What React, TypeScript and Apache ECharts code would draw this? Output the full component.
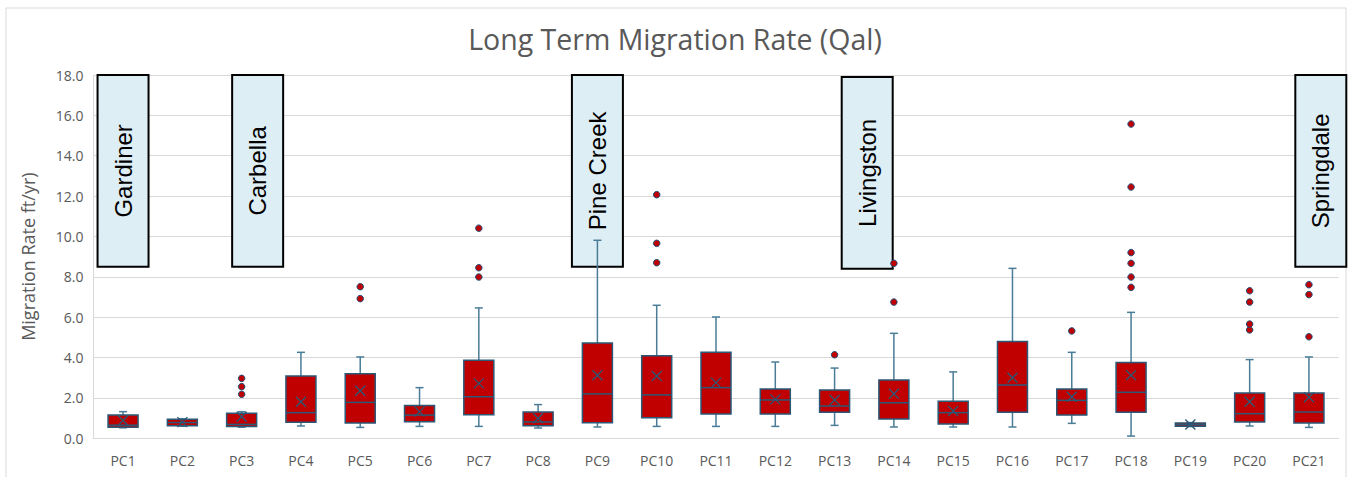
import React, { useEffect, useRef } from "react";
import * as echarts from "echarts";

const categories = ["PC1","PC2","PC3","PC4","PC5","PC6","PC7","PC8","PC9","PC10","PC11","PC12","PC13","PC14","PC15","PC16","PC17","PC18","PC19","PC20","PC21"];
const mins    = [0.52,0.60,0.55,0.61,0.54,0.59,0.59,0.51,0.56,0.59,0.59,0.59,0.64,0.56,0.56,0.56,0.74,0.11,0.58,0.61,0.54];
const q1s     = [0.55,0.62,0.58,0.79,0.76,0.82,1.17,0.62,0.77,1.02,1.20,1.20,1.29,0.96,0.71,1.29,1.15,1.29,0.60,0.81,0.76];
const medians = [0.65,0.78,0.69,1.27,1.78,1.15,2.06,0.81,2.20,2.15,2.51,1.90,1.60,1.76,1.27,2.64,1.88,2.28,0.68,1.22,1.30];
const q3s     = [1.15,0.94,1.24,3.09,3.20,1.62,3.87,1.30,4.72,4.09,4.26,2.44,2.39,2.89,1.83,4.79,2.44,3.75,0.76,2.24,2.24];
const maxs    = [1.32,0.96,1.32,4.26,4.03,2.51,6.46,1.67,9.81,6.59,6.01,3.78,3.48,5.20,3.29,8.42,4.26,6.24,0.78,3.90,4.03];
const means   = [0.88,0.80,1.07,1.81,2.36,1.32,2.72,0.99,3.12,3.09,2.76,1.93,1.90,2.21,1.35,3.00,2.06,3.12,0.68,1.81,2.03];
const outliers: number[][] = [
  [], [], [2.18,2.56,2.97], [], [6.92,7.51], [], [7.99,8.45,10.41], [], [],
  [8.70,9.66,12.07], [], [], [4.14], [6.75,8.67], [], [], [5.32],
  [7.48,7.99,8.67,9.20,12.45,15.57], [], [5.37,5.66,6.75,7.31], [5.03,7.12,7.61],
];
const yTicks = { min: 0, max: 18, interval: 2 };
const title = "Long Term Migration Rate (Qal)";
const yName = "Migration Rate ft/yr)";
// location label boxes: name, center (category position), bottom, top
const locNames   = ["Gardiner","Carbella","Pine Creek","Livingston","Springdale"];
const locCenters = [0, 2.27, 8.0, 12.55, 20.2];
const locBottoms = [8.5, 8.5, 8.5, 8.4, 8.5];
const locTops    = [18, 18, 18, 17.9, 18];

export default function App() {
  const ref = useRef<HTMLDivElement>(null);
  useEffect(() => {
    if (!ref.current) return;
    const chart = echarts.init(ref.current, null, { renderer: "svg" });
    const font = "'Open Sans', sans-serif";
    const gray = "#595959";
    const boxData = categories.map((_, i) => [i, mins[i], q1s[i], medians[i], q3s[i], maxs[i], means[i]]);
    const outData: number[][] = [];
    outliers.forEach((arr, i) => arr.forEach((v) => outData.push([i, v])));
    const locData = locNames.map((_, i) => [locCenters[i], locBottoms[i], locTops[i]]);

    chart.setOption({
      animation: false,
      backgroundColor: "#ffffff",
      title: {
        text: title,
        left: "center",
        top: 19,
        textStyle: { fontFamily: font, fontSize: 28.5, fontWeight: "normal", color: gray },
      },
      grid: { left: 93.4, right: 11.4, top: 75, bottom: 38.7 },
      xAxis: [
        {
          type: "category",
          data: categories,
          axisTick: { show: false },
          axisLine: { lineStyle: { color: "#D9D9D9" } },
          axisLabel: { color: gray, fontFamily: font, fontSize: 14, margin: 15 },
        },
        { type: "value", min: -0.5, max: 20.5, show: false },
      ],
      yAxis: {
        type: "value",
        min: yTicks.min,
        max: yTicks.max,
        interval: yTicks.interval,
        name: yName,
        nameLocation: "middle",
        nameGap: 56,
        nameTextStyle: { color: gray, fontFamily: font, fontSize: 18 },
        axisLine: { show: true, onZero: false, lineStyle: { color: "#D9D9D9" } },
        axisTick: { show: false },
        axisLabel: { color: gray, fontFamily: font, fontSize: 14, margin: 10, formatter: (v: number) => v.toFixed(1) },
        splitLine: { lineStyle: { color: "#D9D9D9", width: 1 } },
      },
      graphic: [
        {
          type: "rect",
          silent: true,
          z: -10,
          shape: { x: 6, y: 8, width: 1340, height: 500 },
          style: { fill: "none", stroke: "#D9D9D9", lineWidth: 1 },
        },
      ],
      series: [
        {
          type: "custom",
          name: "locations",
          xAxisIndex: 1,
          z: 1,
          clip: false,
          silent: true,
          data: locData,
          encode: { x: 0, y: [1, 2] },
          renderItem: (params: any, api: any) => {
            const c = api.value(0);
            const b = api.coord([c, api.value(1)]);
            const t = api.coord([c, api.value(2)]);
            const w = api.size([0.86, 0])[0];
            return {
              type: "group",
              children: [
                {
                  type: "rect",
                  shape: { x: b[0] - w / 2, y: t[1], width: w, height: b[1] - t[1] },
                  style: { fill: "#DEEEF5", stroke: "#000000", lineWidth: 2 },
                },
                {
                  type: "text",
                  x: b[0],
                  y: (b[1] + t[1]) / 2,
                  rotation: Math.PI / 2,
                  style: {
                    text: locNames[params.dataIndex],
                    fill: "#000000",
                    fontFamily: "'Liberation Sans', Arial, sans-serif",
                    fontSize: 24,
                    align: "center",
                    verticalAlign: "middle",
                  },
                },
              ],
            };
          },
        },
        {
          type: "custom",
          name: "boxes",
          z: 3,
          data: boxData,
          encode: { x: 0, y: [1, 2, 3, 4, 5, 6] },
          renderItem: (params: any, api: any) => {
            const i = api.value(0);
            const pMin = api.coord([i, api.value(1)]);
            const pQ1 = api.coord([i, api.value(2)]);
            const pMed = api.coord([i, api.value(3)]);
            const pQ3 = api.coord([i, api.value(4)]);
            const pMax = api.coord([i, api.value(5)]);
            const pMean = api.coord([i, api.value(6)]);
            const x = pQ1[0];
            const bw = api.size([1, 0])[0] * 0.506;
            const cap = 4;
            const wh = { stroke: "#4A7C97", lineWidth: 1.5 };
            const dark = "#2A5876";
            const m = 5;
            return {
              type: "group",
              children: [
                { type: "line", shape: { x1: x, y1: pQ3[1], x2: x, y2: pMax[1] }, style: wh },
                { type: "line", shape: { x1: x - cap, y1: pMax[1], x2: x + cap, y2: pMax[1] }, style: wh },
                { type: "line", shape: { x1: x, y1: pQ1[1], x2: x, y2: pMin[1] }, style: wh },
                { type: "line", shape: { x1: x - cap, y1: pMin[1], x2: x + cap, y2: pMin[1] }, style: wh },
                {
                  type: "rect",
                  shape: { x: x - bw / 2, y: pQ3[1], width: bw, height: pQ1[1] - pQ3[1] },
                  style: { fill: "#C00000", stroke: dark, lineWidth: 1.5 },
                },
                { type: "line", shape: { x1: x - bw / 2, y1: pMed[1], x2: x + bw / 2, y2: pMed[1] }, style: { stroke: dark, lineWidth: 1.5 } },
                { type: "line", shape: { x1: x - m, y1: pMean[1] - m, x2: x + m, y2: pMean[1] + m }, style: { stroke: dark, lineWidth: 1.3 } },
                { type: "line", shape: { x1: x - m, y1: pMean[1] + m, x2: x + m, y2: pMean[1] - m }, style: { stroke: dark, lineWidth: 1.3 } },
              ],
            };
          },
        },
        {
          type: "scatter",
          name: "outliers",
          z: 4,
          data: outData,
          symbol: "circle",
          symbolSize: 6.5,
          itemStyle: { color: "#C00000", borderColor: "#1F4E79", borderWidth: 1, opacity: 1 },
        },
      ],
    });
    return () => chart.dispose();
  }, []);
  return <div ref={ref} style={{ position: "fixed", left: 0, top: 0, width: 1350, height: 477 }} />;
}
